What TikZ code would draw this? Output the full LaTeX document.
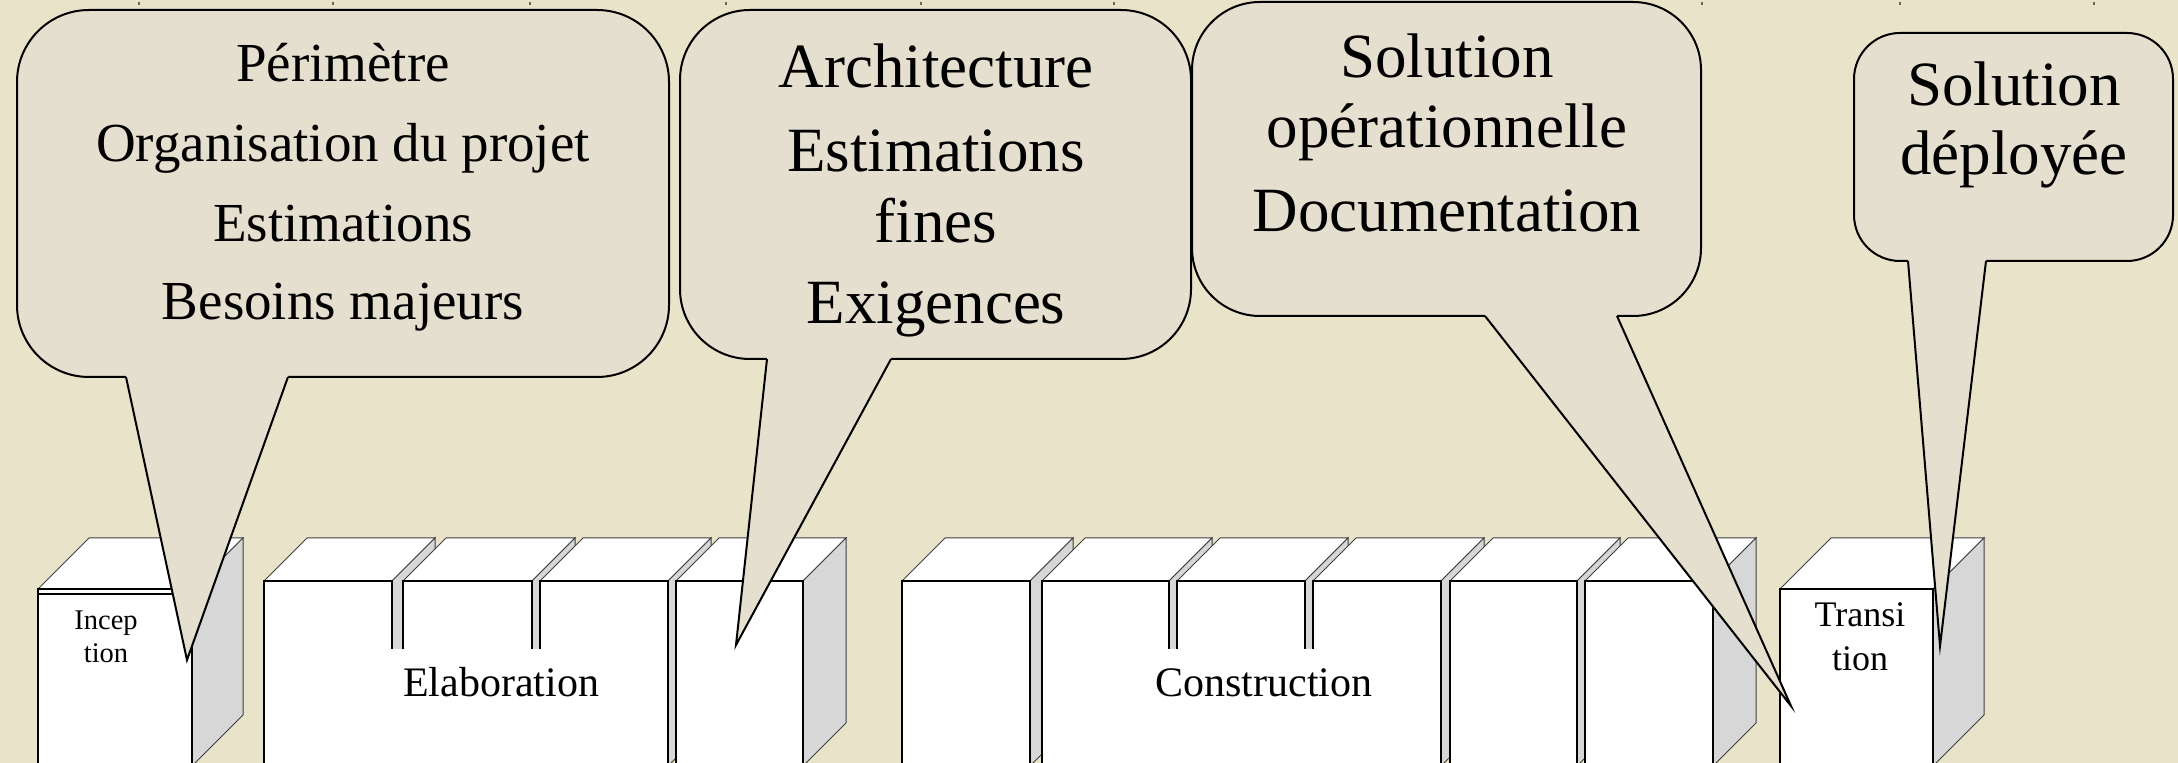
\documentclass[tikz,border=0pt]{standalone}
\usepackage{fontspec}
\setmainfont{Liberation Serif}
\definecolor{bgcol}{RGB}{233,227,202}
\definecolor{bubcol}{RGB}{229,223,207}
\definecolor{sidecol}{RGB}{215,215,215}
\tikzset{
  topface/.style={fill=white, draw=black!75, line width=0.5pt},
  sideface/.style={fill=sidecol, draw=black!75, line width=0.5pt},
  frontface/.style={fill=white, draw=black, line width=1pt},
  bubstyle/.style={fill=bubcol, draw=black, line width=1pt},
  bubline/.style={draw=black, line width=1pt, line join=miter, miter limit=30},
  bigtxt/.style={anchor=base, inner sep=0pt, font=\fontsize{31.5pt}{36pt}\selectfont},
  midtxt/.style={anchor=base, inner sep=0pt, font=\fontsize{27.5pt}{32pt}\selectfont},
  lbltxt/.style={anchor=base, inner sep=0pt, font=\fontsize{21pt}{24pt}\selectfont},
  tinytxt/.style={anchor=base, inner sep=0pt, font=\fontsize{14.25pt}{17pt}\selectfont},
  smalltxt/.style={anchor=base, inner sep=0pt, font=\fontsize{18pt}{21pt}\selectfont},
  tick/.style={draw=black!60, line width=0.6pt}
}
% x1 x2 fronttop depth
\newcommand\slabbox[4]{%
  \filldraw[topface] (#1,#3) -- ({#1+#4},{#3-#4}) -- ({#2+#4},{#3-#4}) -- (#2,#3) -- cycle;
  \filldraw[sideface] (#2,#3) -- ({#2+#4},{#3-#4}) -- ({#2+#4},{766-#4}) -- (#2,766) -- cycle;
  \filldraw[frontface] (#1,#3) rectangle (#2,766);
}
% L T R B radius xL xR tipx tipy
\newcommand\callout[9]{%
  \filldraw[bubstyle, rounded corners=#5] (#1,#2) rectangle (#3,#4);
  \fill[bubcol] (#6,{#4-5}) -- (#6,#4) -- (#8,#9) -- (#7,#4) -- (#7,{#4-5}) -- cycle;
  \draw[bubline] (#6,#4) -- (#8,#9) -- (#7,#4);
}
\begin{document}
\begin{tikzpicture}[x=0.5pt, y=-0.5pt]
\clip (0,0) rectangle (2178,763);
\fill[bgcol] (0,0) rectangle (2178,763);

% ticks on the top edge
\foreach \tx in {139,333,530,726,921,1114,1310,1506,1702,1900,2094}
  \draw[tick] (\tx,2.5) -- (\tx,5.5);

% Inception
\slabbox{38}{192}{589}{51}
\draw[line width=1pt] (38,594) -- (192,594);
\node[tinytxt] (incep1) at (106,630) {Incep};
\node[tinytxt] (incep2) at (106,663) {tion};

% Elaboration
\slabbox{264}{392}{581}{43}
\slabbox{403}{532}{581}{43}
\slabbox{540}{668}{581}{43}
\slabbox{676}{803}{581}{43}
\fill[white] (336,649) rectangle (660,770);
\node[lbltxt] (elab) at (501,697) {Elaboration};

% Construction
\slabbox{902}{1030}{581}{43}
\slabbox{1042}{1169}{581}{43}
\slabbox{1177}{1305}{581}{43}
\slabbox{1313}{1441}{581}{43}
\slabbox{1450}{1577}{581}{43}
\slabbox{1585}{1713}{581}{43}
\fill[white] (1090,649) rectangle (1430,770);
\node[lbltxt] (constr) at (1264,697) {Construction};

% Transition
\slabbox{1780}{1933}{589}{51}
\node[smalltxt] (trans1) at (1860,627) {Transi};
\node[smalltxt] (trans2) at (1860,670) {tion};

% Callouts
\callout{17}{10}{669}{377}{36pt}{126}{288}{187}{660}
\node[midtxt] (b1a) at (343,82) {Périmètre};
\node[midtxt] (b1b) at (343,162) {Organisation du projet};
\node[midtxt] (b1c) at (343,242) {Estimations};
\node[midtxt] (b1d) at (343,320) {Besoins majeurs};

\callout{680}{10}{1191}{359}{35pt}{767}{891}{736}{645}
\node[bigtxt] (b2a) at (936,88) {Architecture};
\node[bigtxt] (b2b) at (936,172) {Estimations};
\node[bigtxt] (b2c) at (936,243) {fines};
\node[bigtxt] (b2d) at (936,324) {Exigences};

\callout{1192}{2}{1701}{316}{34pt}{1485}{1617}{1791}{706}
\node[bigtxt] (b3a) at (1447,78) {Solution};
\node[bigtxt] (b3b) at (1447,148) {opérationnelle};
\node[bigtxt] (b3c) at (1447,232) {Documentation};

\callout{1854}{33}{2173}{261}{23pt}{1908}{1986}{1940}{646}
\node[bigtxt] (b4a) at (2014,106) {Solution};
\node[bigtxt] (b4b) at (2014,175) {déployée};
\end{tikzpicture}
\end{document}
